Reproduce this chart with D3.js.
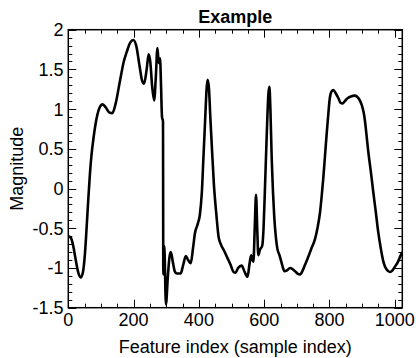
<!DOCTYPE html>
<html>
<head>
<meta charset="utf-8">
<script src="https://cdn.jsdelivr.net/npm/d3@7"></script>
<style>
  body { margin: 0; background: #fff; }
  svg { display: block; font-family: "Liberation Sans", Arial, sans-serif; }
</style>
</head>
<body>
<div id="chart"></div>
<script>
// feature index (x) and magnitude (y)
var featureIndex = [0, 8, 15, 22, 30, 38, 45, 51, 56, 61, 66, 71, 77, 83, 89, 96, 105, 115, 125, 135,
  145, 158, 170, 179, 190, 199, 208, 218, 226, 232, 240, 246, 251, 257, 263, 268, 273, 277, 281, 284,
  287, 290, 291, 294, 299, 305, 310, 314, 320, 326, 332, 344, 352, 360, 367, 375, 382, 388, 396, 403,
  409, 414, 419, 424, 427, 431, 435, 439, 446, 454, 460, 467, 477, 487, 497, 506, 512, 520, 531, 540,
  549, 555, 560, 564, 567, 571, 575, 579, 582, 587, 594, 598, 602, 608, 613, 616, 619, 623, 627, 631,
  636, 640, 647, 655, 662, 670, 679, 686, 694, 702, 710, 718, 725, 733, 744, 756, 764, 771, 776, 781,
  786, 791, 796, 801, 806, 812, 819, 827, 834, 840, 847, 853, 865, 878, 890, 899, 905, 909, 914, 919,
  927, 934, 942, 949, 957, 965, 975, 985, 993, 1001, 1010, 1016, 1023];
var magnitude = [-0.6, -0.62, -0.72, -0.88, -1.05, -1.12, -1.05, -0.82, -0.5, -0.15, 0.17, 0.42, 0.63, 0.8, 0.93, 1.02, 1.06, 1.02, 0.96, 0.95,
  1.07, 1.35, 1.6, 1.72, 1.84, 1.87, 1.8, 1.55, 1.36, 1.32, 1.5, 1.69, 1.6, 1.28, 1.11, 1.4, 1.77, 1.58, 1.64, 1.3,
  0.9, 0.85, -1.08, -0.72, -1.46, -1.1, -0.86, -0.8, -0.92, -1.04, -1.07, -1.07, -0.96, -0.85, -0.9, -0.94, -0.75, -0.56, -0.45, -0.33,
  -0.05, 0.4, 0.85, 1.28, 1.37, 1.25, 0.9, 0.58, 0.05, -0.35, -0.6, -0.7, -0.78, -0.87, -0.96, -1.05, -1.06, -1.0, -0.97, -1.05,
  -1.11, -0.95, -0.84, -0.9, -0.92, -0.5, -0.08, -0.55, -0.84, -0.77, -0.72, -0.5, -0.04, 0.7, 1.2, 1.28, 1.0, 0.38, -0.05, -0.37,
  -0.62, -0.75, -0.84, -0.96, -1.04, -1.03, -1.0, -1.01, -1.04, -1.07, -1.08, -1.03, -0.96, -0.88, -0.76, -0.63, -0.48, -0.3, -0.1, 0.13,
  0.4, 0.67, 0.92, 1.14, 1.22, 1.24, 1.2, 1.14, 1.08, 1.07, 1.1, 1.13, 1.16, 1.17, 1.13, 1.05, 0.95, 0.84, 0.65, 0.46,
  0.2, -0.04, -0.3, -0.54, -0.75, -0.92, -1.02, -1.05, -1.03, -0.98, -0.92, -0.86, -0.8];

var xTicks = [0, 200, 400, 600, 800, 1000];
var yTicks = [-1.5, -1, -0.5, 0, 0.5, 1, 1.5, 2];

var width = 416, height = 358;
var pLeft = 68.3, pRight = 402.3, pTop = 29.7, pBottom = 307.7;

var data = featureIndex.map(function(d, i) { return { x: d, y: magnitude[i] }; });

var xScale = d3.scaleLinear().domain([0, 1023]).range([pLeft, pRight]);
var yScale = d3.scaleLinear().domain([-1.5, 2]).range([pBottom, pTop]);

var svg = d3.select("#chart").append("svg")
  .attr("width", width)
  .attr("height", height);

/* curve */
var line = d3.line()
  .x(d => xScale(d.x))
  .y(d => yScale(d.y))
  .curve(d3.curveMonotoneX);

svg.append("defs").append("clipPath").attr("id", "clip")
  .append("rect")
  .attr("x", pLeft).attr("y", pTop)
  .attr("width", pRight - pLeft).attr("height", pBottom - pTop);

svg.append("path")
  .datum(data)
  .attr("clip-path", "url(#clip)")
  .attr("fill", "none")
  .attr("stroke", "#000")
  .attr("stroke-width", 2.6)
  .attr("stroke-linejoin", "round")
  .attr("d", line);

/* ticks, inward on all four sides */
var minorX = d3.range(0, 1024, 50);
var minorY = d3.range(-15, 21).map(d => d / 10);
var ticks = svg.append("g").attr("stroke", "#000").attr("stroke-width", 1);

minorX.forEach(function(v) {
  var len = v % 200 === 0 ? 8 : 4;
  var px = Math.round(xScale(v)) + 0.5;
  ticks.append("line").attr("x1", px).attr("x2", px).attr("y1", pBottom).attr("y2", pBottom - len);
  ticks.append("line").attr("x1", px).attr("x2", px).attr("y1", pTop).attr("y2", pTop + len);
});
minorY.forEach(function(v) {
  var len = Math.abs(Math.round(v * 10)) % 5 === 0 ? 8 : 4;
  var py = Math.round(yScale(v)) + 0.5;
  ticks.append("line").attr("x1", pLeft).attr("x2", pLeft + len).attr("y1", py).attr("y2", py);
  ticks.append("line").attr("x1", pRight).attr("x2", pRight - len).attr("y1", py).attr("y2", py);
});

svg.append("rect")
  .attr("x", pLeft).attr("y", pTop)
  .attr("width", pRight - pLeft).attr("height", pBottom - pTop)
  .attr("fill", "none")
  .attr("stroke", "#000")
  .attr("stroke-width", 1.5);

/* tick labels */
svg.append("g").selectAll("text")
  .data(xTicks).enter()
  .append("text")
  .attr("x", d => xScale(d))
  .attr("y", 326)
  .attr("text-anchor", "middle")
  .attr("font-size", 18)
  .text(d => d);

svg.append("g").selectAll("text")
  .data(yTicks).enter()
  .append("text")
  .attr("x", 63.5)
  .attr("y", d => yScale(d))
  .attr("dy", "0.36em")
  .attr("text-anchor", "end")
  .attr("font-size", 18)
  .text(d => d);

/* titles */
svg.append("text")
  .attr("x", (pLeft + pRight) / 2)
  .attr("y", 22.7)
  .attr("text-anchor", "middle")
  .attr("font-size", 18)
  .attr("font-weight", "bold")
  .text("Example");

svg.append("text")
  .attr("x", (pLeft + pRight) / 2)
  .attr("y", 353)
  .attr("text-anchor", "middle")
  .attr("font-size", 18)
  .text("Feature index (sample index)");

svg.append("text")
  .attr("transform", `translate(23, ${(pTop + pBottom) / 2}) rotate(-90)`)
  .attr("text-anchor", "middle")
  .attr("font-size", 18)
  .text("Magnitude");
</script>
</body>
</html>
